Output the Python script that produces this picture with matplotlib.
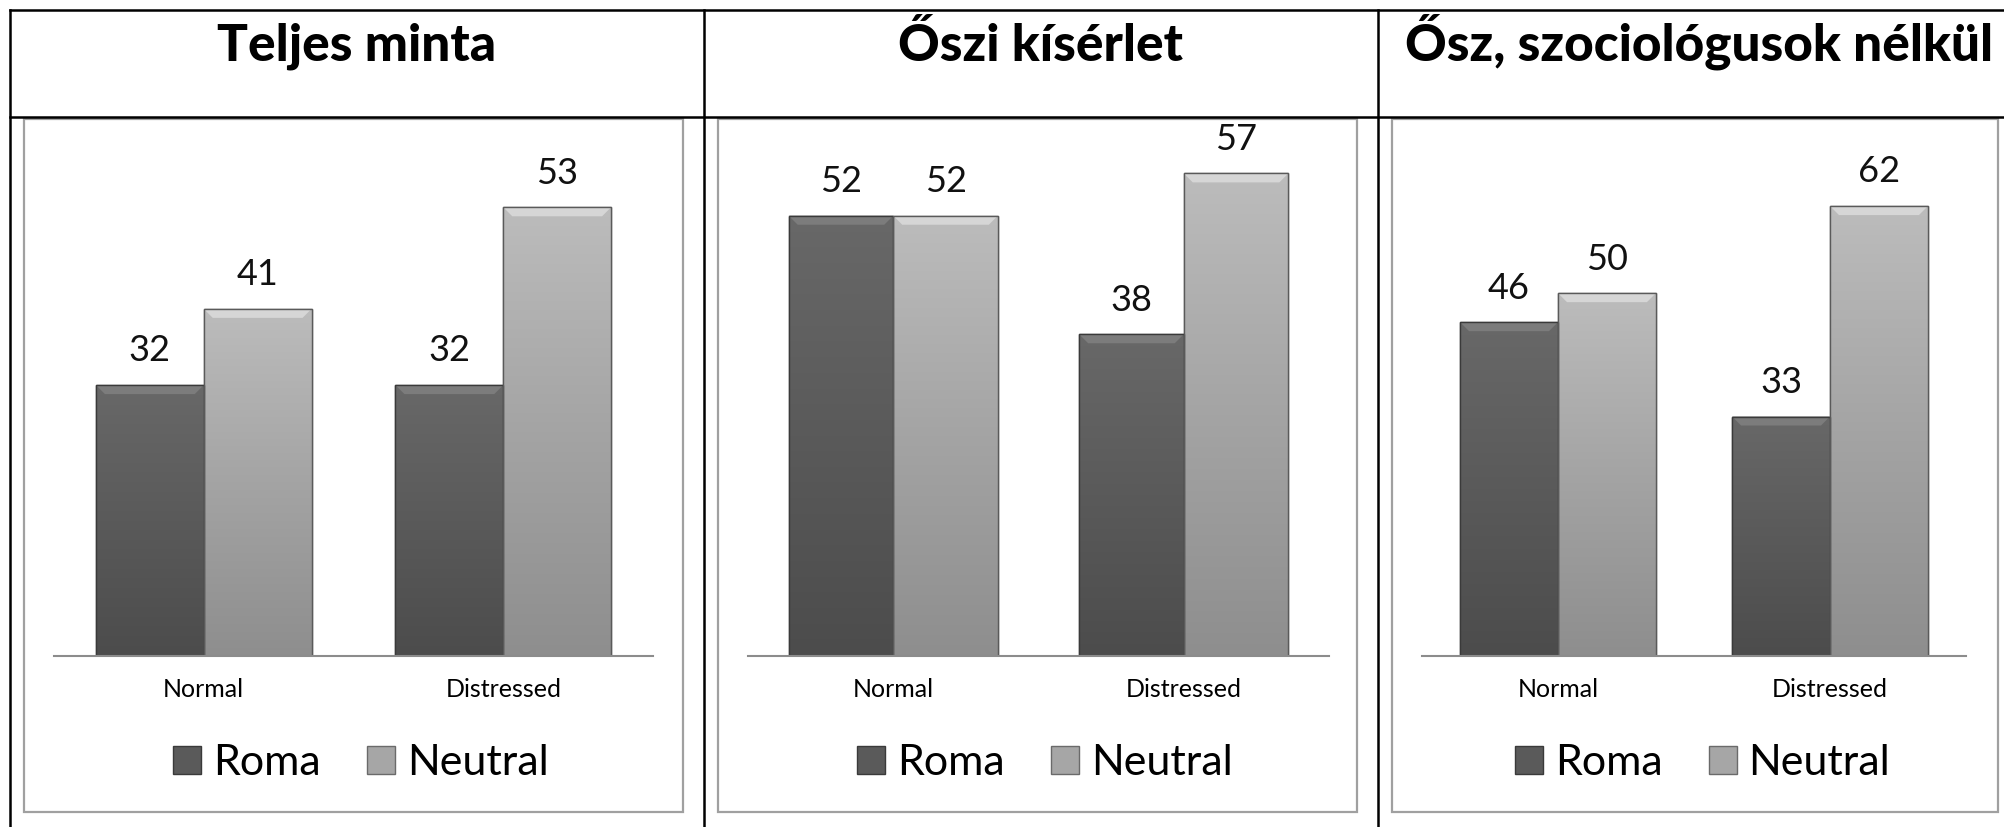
import numpy as np
import matplotlib
matplotlib.use('Agg')
import matplotlib.pyplot as plt
from matplotlib.colors import LinearSegmentedColormap
from matplotlib.lines import Line2D
from matplotlib.patches import Rectangle, Polygon

plt.rcParams['font.family'] = ['Lato', 'DejaVu Sans']

# data
titles = ['Teljes minta', 'Őszi kísérlet', 'Ősz, szociológusok nélkül']
categories = ['Normal', 'Distressed']
series_names = ['Roma', 'Neutral']
roma = [[32, 32], [52, 38], [46, 33]]
neutral = [[41, 53], [52, 57], [50, 62]]
ymax = [60, 60, 70]

W, H = 2004, 827
fig = plt.figure(figsize=(W / 100, H / 100), dpi=100)


def fx(px):
    return px / W


def fy(py):
    return 1 - py / H


# panel geometry in pixels (left, right of plot area; frame left/right; title centre)
axes_px = [(54, 653), (748, 1329), (1422, 1966)]
frames_px = [(24, 683), (718, 1357), (1392, 1998)]
title_x = [357, 1041, 1699]
plot_top, plot_bottom = 148, 656

cmap_roma = LinearSegmentedColormap.from_list('roma', ['#4c4c4c', '#5a5a5a', '#686868'])
cmap_neut = LinearSegmentedColormap.from_list('neut', ['#8e8e8e', '#a4a4a4', '#bcbcbc'])
grad = np.linspace(0, 1, 256).reshape(-1, 1)

for i in range(3):
    l, r = axes_px[i]
    ax = fig.add_axes([fx(l), fy(plot_bottom), fx(r) - fx(l), (plot_bottom - plot_top) / H])
    x = np.arange(len(categories))
    w = 0.36
    b1 = ax.bar(x - w / 2, roma[i], w, color='#5a5a5a', edgecolor='#3a3a3a', linewidth=1, zorder=2)
    b2 = ax.bar(x + w / 2, neutral[i], w, color='#a6a6a6', edgecolor='#5a5a5a', linewidth=1, zorder=2)
    ax.set_xlim(-0.5, len(categories) - 0.5)
    ax.set_ylim(0, ymax[i])

    # gradient fill and top bevel
    ppx = (r - l) / (len(categories))          # pixels per x unit
    ppy = (plot_bottom - plot_top) / ymax[i]   # pixels per y unit
    dx, dy = 9 / ppx, 9 / ppy
    for bars, cm, bevel in [(b1, cmap_roma, '#7c7c7c'), (b2, cmap_neut, '#d6d6d6')]:
        for bar in bars:
            bx, by = bar.get_x(), bar.get_y()
            bw, bh = bar.get_width(), bar.get_height()
            im = ax.imshow(grad, cmap=cm, extent=(bx, bx + bw, by, by + bh),
                           aspect='auto', origin='lower', zorder=2.1)
            im.set_clip_path(bar)
            top = by + bh
            ax.add_patch(Polygon([(bx, top), (bx + bw, top), (bx + bw - dx, top - dy), (bx + dx, top - dy)],
                                 closed=True, facecolor=bevel, edgecolor='none', zorder=2.2))
            ax.add_patch(Rectangle((bx, by), bw, bh, facecolor='none',
                                   edgecolor=bar.get_edgecolor(), linewidth=1, zorder=2.3))
            ax.annotate(f'{bh:g}', (bx + bw / 2, top), xytext=(0, 17), textcoords='offset points',
                        ha='center', va='baseline', fontsize=26, color='#111111')
    ax.set_xlim(-0.5, len(categories) - 0.5)
    ax.set_ylim(0, ymax[i])

    for s in ['top', 'left', 'right']:
        ax.spines[s].set_visible(False)
    ax.spines['bottom'].set_color('#8c8c8c')
    ax.spines['bottom'].set_linewidth(1.5)
    ax.set_yticks([])
    ax.set_xticks(x)
    ax.set_xticklabels(categories, fontsize=18)
    ax.tick_params(axis='x', length=0, pad=16)
    ax.patch.set_alpha(0)

    # legend
    fl, fr = frames_px[i]
    handles = [Line2D([], [], marker='s', linestyle='none', markersize=20,
                      markerfacecolor='#5a5a5a', markeredgecolor='#3a3a3a'),
               Line2D([], [], marker='s', linestyle='none', markersize=20,
                      markerfacecolor='#a6a6a6', markeredgecolor='#6a6a6a')]
    ax.legend(handles, series_names, loc='center', bbox_to_anchor=(fx((fl + fr) / 2 + 6), fy(763)),
              bbox_transform=fig.transFigure, ncol=2, frameon=False, fontsize=31,
              handletextpad=0.2, columnspacing=1.0, handlelength=0.8)

    # chart frame
    fig.add_artist(Rectangle((fx(fl), fy(812)), fx(fr) - fx(fl), (812 - 119) / H,
                             transform=fig.transFigure, facecolor='none',
                             edgecolor='#a0a0a0', linewidth=1.6))

    # title
    fig.text(fx(title_x[i]), fy(61), titles[i], ha='center', va='baseline',
             fontsize=37, fontweight='black', color='black')

# table lines
lk = dict(color='black', linewidth=1.8, transform=fig.transFigure)
fig.add_artist(Line2D([fx(10), 1], [fy(10), fy(10)], **lk))
fig.add_artist(Line2D([fx(10), 1], [fy(117), fy(117)], **lk))
for px in [10, 704, 1378]:
    fig.add_artist(Line2D([fx(px), fx(px)], [fy(10), 0], **lk))

fig.savefig('out.png', dpi=100)
